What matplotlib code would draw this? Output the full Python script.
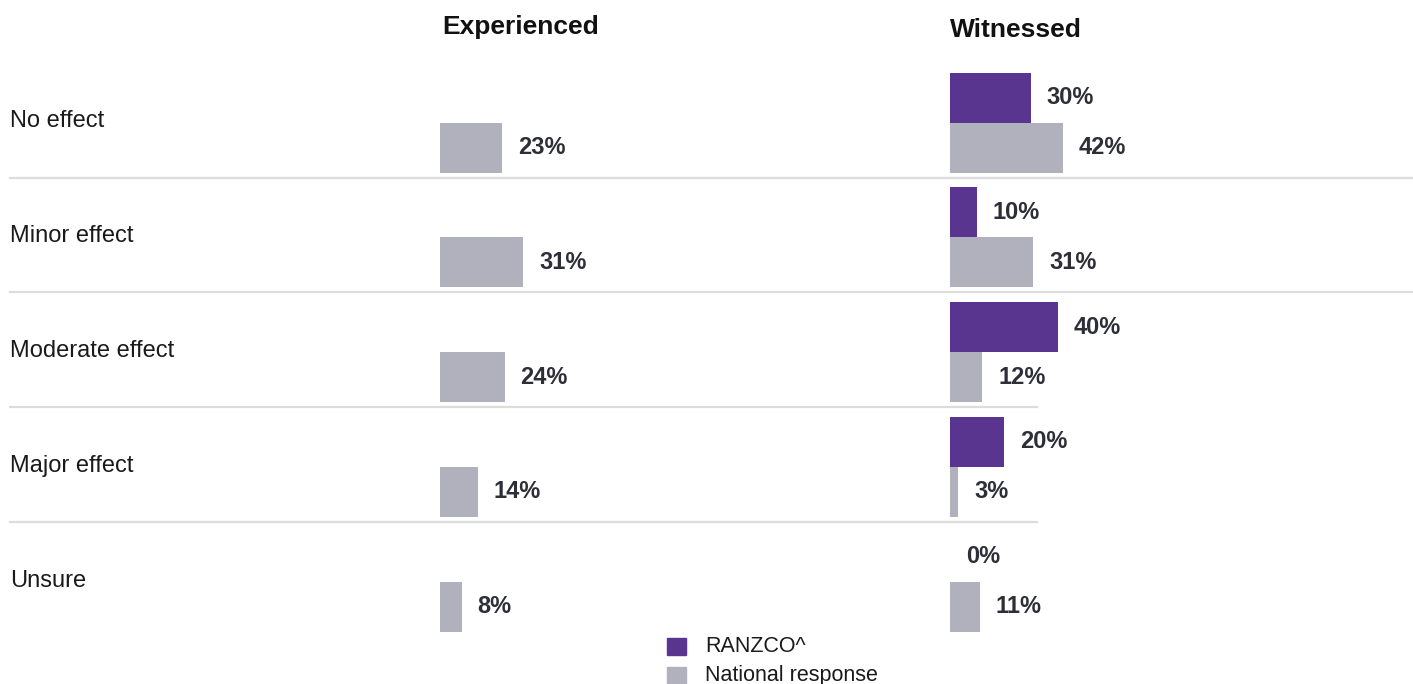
import matplotlib.pyplot as plt
import matplotlib.transforms as mtransforms
from matplotlib.lines import Line2D
from matplotlib.patches import Rectangle

plt.rcParams['font.family'] = ['Liberation Sans', 'DejaVu Sans']

categories = ['No effect', 'Minor effect', 'Moderate effect', 'Major effect', 'Unsure']
panels = ['Experienced', 'Witnessed']
series = ['RANZCO^', 'National response']

# None = no bar shown for that group
exp_ranzco = [None, None, None, None, None]
exp_national = [23, 31, 24, 14, 8]
wit_ranzco = [30, 10, 40, 20, 0]
wit_national = [42, 31, 12, 3, 11]

purple = '#5a3590'
grey = '#b1b1bd'
txt = '#2e2e38'
rule = '#dcdcdc'

W, H = 1413, 684
fig = plt.figure(figsize=(W / 100, H / 100), dpi=100)

# pixel-space background for titles and legend
bg = fig.add_axes([0, 0, 1, 1])
bg.set_xlim(0, W)
bg.set_ylim(H, 0)
bg.axis('off')

row_px = 114.8
top_px = 122.5 - row_px / 2
bot_px = top_px + row_px * len(categories)
px_per_pct = 2.69
bar_h = 50 / row_px


def panel_axes(left_px):
    ax = fig.add_axes([left_px / W, 1 - bot_px / H, 100 * px_per_pct / W, (bot_px - top_px) / H])
    ax.set_xlim(0, 100)
    ax.set_ylim(len(categories) - 0.5, -0.5)
    ax.axis('off')
    return ax


ax_exp = panel_axes(440)
ax_wit = panel_axes(950)

pad = 16 / px_per_pct
for ax, ranzco, national in [(ax_exp, exp_ranzco, exp_national), (ax_wit, wit_ranzco, wit_national)]:
    for i in range(len(categories)):
        for val, off, col in [(ranzco[i], -bar_h / 2, purple), (national[i], bar_h / 2, grey)]:
            if val is None:
                continue
            ax.barh(i + off, val, height=bar_h, color=col)
            ax.text(val + pad, i + off, f'{val}%', va='center', ha='left',
                    fontsize=17, fontweight='bold', color=txt, clip_on=False)

# category labels at the left edge, rows follow the bar axes
lab_tr = mtransforms.blended_transform_factory(fig.transFigure, ax_exp.transData)
for i, c in enumerate(categories):
    ax_exp.text(10 / W, i - 0.01, c, transform=lab_tr, va='center', ha='left',
                fontsize=17, color='#1a1a1a', clip_on=False)

# row separators (the lower two stop short)
for i in range(len(categories) - 1):
    x_end = W if i < 2 else 1037
    y = i + 55 / row_px
    ax_exp.add_line(Line2D([10 / W, x_end / W], [y, y], color=rule, lw=1.6,
                           transform=lab_tr, clip_on=False))

# panel titles
bg.text(442, 27, panels[0], fontsize=19, fontweight='bold', color='#111111', va='center', ha='left')
bg.text(950, 30, panels[1], fontsize=19, fontweight='bold', color='#111111', va='center', ha='left')

# legend
for k, (name, col) in enumerate(zip(series, [purple, grey])):
    y0 = 638 + 29 * k
    bg.add_patch(Rectangle((667, y0), 19, 17, color=col))
    bg.text(705, y0 + 8.5, name, fontsize=15.5, color='#1a1a1a', va='center', ha='left')

fig.savefig('out.png', dpi=100)
